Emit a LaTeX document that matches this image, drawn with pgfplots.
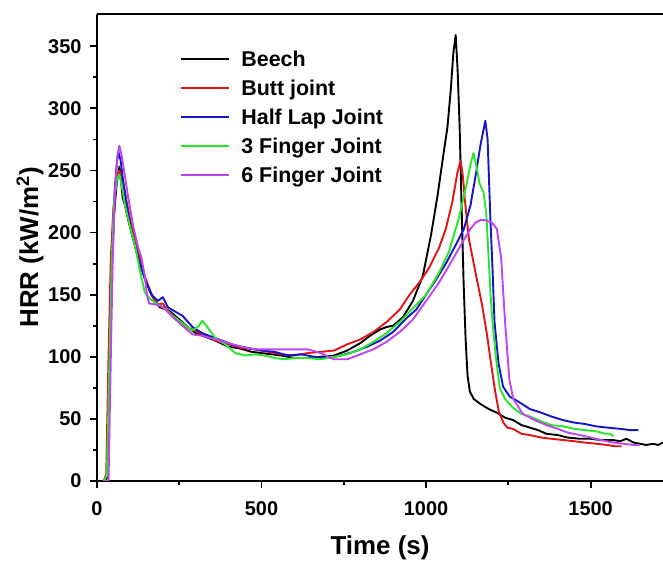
\documentclass[border=0pt]{standalone}
\usepackage{fontspec}
\setmainfont{Liberation Sans}
\usepackage{pgfplots}
\pgfplotsset{compat=1.18}
\definecolor{cRed}{RGB}{228,20,20}
\definecolor{cBlue}{RGB}{20,20,200}
\definecolor{cGreen}{RGB}{40,230,40}
\definecolor{cViolet}{RGB}{190,70,240}
\begin{document}
\begin{tikzpicture}[x=1bp,y=1bp]
\path[use as bounding box] (0,0) rectangle (663,561);
\begin{axis}[
  at={(97bp,80bp)}, anchor=south west,
  scale only axis, width=566bp, height=467bp,
  xmin=0, xmax=1720, ymin=0, ymax=376,
  axis x line*=box, axis y line*=left,
  xtick={0,500,1000,1500}, ytick={0,50,...,350},
  minor x tick num=1, minor y tick num=1,
  xtick pos=bottom, ytick pos=left,
  tick align=outside,
  major tick length=7bp, minor tick length=4bp,
  every tick/.style={line width=1.8bp, black},
  axis line style={line width=2.6bp},
  /pgf/number format/assume math mode=true,
  /pgf/number format/set thousands separator={},
  tick label style={font=\fontsize{20}{24}\selectfont\bfseries},
  xticklabel style={yshift=-10bp},
  yticklabel style={xshift=-5bp},
  xlabel={Time (s)}, ylabel={HRR (kW/m$^{\mathbf{2}}$)},
  label style={font=\fontsize{26}{30}\selectfont\bfseries},
  xlabel style={yshift=-13bp},
  ylabel style={yshift=-2bp},
  legend cell align=left,
  legend style={at={(0.147,0.926)}, anchor=north west, draw=none, fill=none,
    font=\fontsize{21.5}{28}\selectfont\bfseries, inner sep=0pt,
    row sep=8bp, /tikz/every odd column/.append style={column sep=9bp}},
  legend image code/.code={\draw[line width=2bp] (0bp,0bp) -- (48bp,0bp);},
  every axis plot/.append style={line width=1.9bp, line join=round},
]
\addplot[black] coordinates {(20,0)(30,2)(38,80)(45,170)(52,215)(60,240)(68,253)(72,245)(78,228)(85,222)(95,210)(110,195)(130,175)(150,160)(170,148)(190,140)(200,139)(220,137)(250,130)(280,123)(300,119)(330,116)(360,113)(400,108)(430,107)(470,104)(500,103)(530,102)(560,101)(600,99)(640,99)(680,100)(720,101)(760,105)(800,111)(830,117)(860,122)(880,124)(900,125)(930,132)(960,145)(990,165)(1015,198)(1035,230)(1050,258)(1065,285)(1075,315)(1083,345)(1090,359)(1096,330)(1102,285)(1108,220)(1114,160)(1120,115)(1126,85)(1133,72)(1145,66)(1165,62)(1190,58)(1215,55)(1240,51)(1265,49)(1290,45)(1315,43)(1340,41)(1366,38)(1400,37)(1430,35)(1467,34)(1500,34)(1530,33)(1568,33)(1590,32)(1609,34)(1630,31)(1650,30)(1669,29)(1690,30)(1705,29)(1720,31)};
\addlegendentry{Beech}
\addplot[cRed] coordinates {(20,0)(28,5)(35,100)(42,180)(50,220)(58,240)(66,250)(72,248)(80,240)(90,225)(105,205)(125,185)(145,165)(165,150)(185,142)(200,143)(215,137)(240,131)(270,124)(300,121)(330,117)(360,113)(400,110)(440,107)(480,106)(520,104)(560,102)(600,101)(640,103)(680,104)(720,105)(760,110)(800,114)(840,120)(880,128)(920,138)(950,150)(980,160)(1010,172)(1040,188)(1060,203)(1080,225)(1095,248)(1105,258)(1112,245)(1118,226)(1130,195)(1150,168)(1170,142)(1185,118)(1195,99)(1210,72)(1221,56)(1235,47)(1247,43)(1264,42)(1290,38)(1315,37)(1350,35)(1380,34)(1416,33)(1450,32)(1480,31)(1517,30)(1550,29)(1575,28)(1594,28)};
\addlegendentry{Butt joint}
\addplot[cBlue] coordinates {(20,0)(32,3)(40,110)(47,190)(54,235)(60,255)(65,265)(72,258)(80,240)(90,222)(105,200)(125,180)(145,163)(165,150)(185,145)(200,148)(215,140)(240,136)(260,133)(290,124)(320,119)(350,116)(380,113)(420,109)(460,107)(500,105)(540,104)(580,101)(620,102)(660,100)(700,99)(740,101)(780,104)(820,108)(860,113)(900,120)(940,131)(970,138)(1000,150)(1030,162)(1060,175)(1090,190)(1115,203)(1135,222)(1150,245)(1165,270)(1180,290)(1187,275)(1195,214)(1202,170)(1208,128)(1220,95)(1234,76)(1254,68)(1280,64)(1315,58)(1350,55)(1380,52)(1416,49)(1450,47)(1480,46)(1517,44)(1550,43)(1590,42)(1620,41)(1645,41)};
\addlegendentry{Half Lap Joint}
\addplot[cGreen] coordinates {(20,0)(30,4)(38,100)(45,180)(52,225)(60,242)(68,247)(75,238)(85,222)(100,205)(115,190)(130,170)(145,152)(160,147)(180,143)(200,140)(230,133)(260,127)(290,121)(310,125)(320,129)(335,124)(360,115)(390,110)(420,103)(450,101)(480,102)(510,101)(540,99)(570,98)(600,99)(640,99)(680,98)(720,100)(760,102)(800,106)(840,112)(880,119)(920,128)(960,139)(1000,150)(1040,168)(1070,185)(1100,212)(1120,235)(1135,255)(1144,264)(1152,255)(1162,240)(1175,232)(1183,215)(1189,185)(1196,150)(1202,128)(1212,100)(1224,75)(1240,66)(1264,59)(1290,54)(1315,52)(1350,48)(1380,45)(1416,44)(1450,42)(1480,41)(1517,40)(1545,38)(1560,38)(1570,36)};
\addlegendentry{3 Finger Joint}
\addplot[cViolet] coordinates {(20,0)(35,0)(42,100)(48,180)(55,235)(62,262)(68,270)(75,262)(85,245)(95,228)(110,205)(125,188)(135,180)(145,165)(152,150)(158,143)(180,142)(200,140)(230,132)(260,125)(290,118)(320,117)(360,114)(400,111)(440,108)(480,106)(520,106)(560,106)(600,106)(640,106)(680,103)(720,98)(760,98)(800,102)(840,106)(880,112)(920,120)(960,130)(1000,145)(1040,160)(1080,178)(1110,192)(1135,203)(1150,208)(1165,210)(1180,210)(1200,208)(1215,203)(1228,180)(1240,128)(1253,82)(1265,66)(1294,54)(1330,49)(1366,45)(1400,42)(1430,39)(1467,37)(1500,35)(1530,33)(1568,31)(1600,30)(1630,29)(1649,29)};
\addlegendentry{6 Finger Joint}
\end{axis}
\end{tikzpicture}
\end{document}
